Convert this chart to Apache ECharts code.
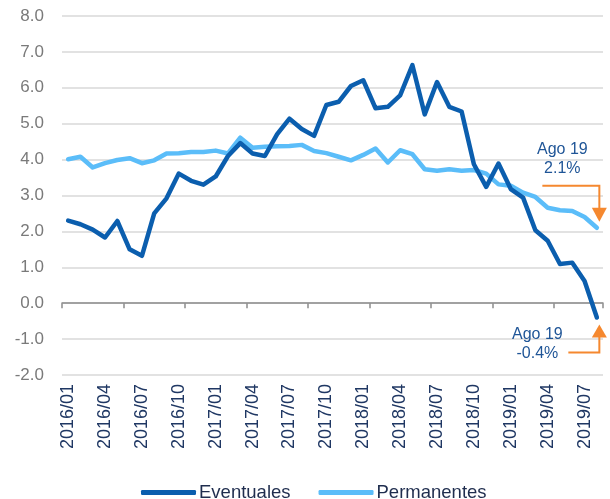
<!DOCTYPE html>
<html>
<head>
<meta charset="utf-8">
<script src="https://cdn.jsdelivr.net/npm/echarts@6/dist/echarts.min.js"></script>
<style>
  html, body { margin: 0; padding: 0; background: #fff; }
  #chart { width: 610px; height: 499px; }
</style>
</head>
<body>
<div id="chart"></div>
<script>
// meses 2016/01 - 2019/08
var meses = [
    '2016/01', '2016/02', '2016/03', '2016/04', '2016/05', '2016/06', '2016/07', '2016/08', '2016/09', '2016/10', '2016/11', '2016/12',
    '2017/01', '2017/02', '2017/03', '2017/04', '2017/05', '2017/06', '2017/07', '2017/08', '2017/09', '2017/10', '2017/11', '2017/12',
    '2018/01', '2018/02', '2018/03', '2018/04', '2018/05', '2018/06', '2018/07', '2018/08', '2018/09', '2018/10', '2018/11', '2018/12',
    '2019/01', '2019/02', '2019/03', '2019/04', '2019/05', '2019/06', '2019/07', '2019/08'
];
var eventuales = [
    2.3, 2.2, 2.05, 1.83, 2.29, 1.5, 1.32, 2.5, 2.92, 3.61, 3.41, 3.3,
    3.53, 4.1, 4.46, 4.17, 4.1, 4.71, 5.14, 4.85, 4.66, 5.52, 5.61, 6.05,
    6.21, 5.43, 5.47, 5.79, 6.63, 5.26, 6.16, 5.47, 5.34, 3.87, 3.24, 3.89,
    3.18, 2.94, 2.03, 1.74, 1.09, 1.13, 0.62, -0.4
];
var permanentes = [
    4.01, 4.08, 3.78, 3.9, 3.99, 4.04, 3.9, 3.98, 4.17, 4.18, 4.21, 4.21,
    4.25, 4.17, 4.61, 4.33, 4.36, 4.37, 4.38, 4.41, 4.24, 4.18, 4.08, 3.98,
    4.13, 4.31, 3.92, 4.26, 4.15, 3.73, 3.69, 3.73, 3.69, 3.71, 3.61, 3.31,
    3.27, 3.08, 2.96, 2.66, 2.59, 2.57, 2.4, 2.1
];
var notaPerm = ['Ago 19', '2.1%'];
var notaEvent = ['Ago 19', '-0.4%'];

var colorEvent = '#0b5eae';
var colorPerm = '#5bbdf9';
var naranja = '#f5882f';
var azulTexto = '#1f5597';
var fuente = '"Liberation Sans", Arial, sans-serif';

var chart = echarts.init(document.getElementById('chart'));

var option = {
    animation: false,
    textStyle: { fontFamily: fuente },
    grid: { left: 62, right: 7, top: 16, bottom: 124, containLabel: false },
    legend: {
        top: 478,
        left: 136,
        itemWidth: 55,
        itemHeight: 5,
        itemGap: 28,
        icon: 'roundRect',
        textStyle: { fontSize: 18.5, color: '#1f2d4e', fontFamily: fuente, padding: [0, 0, 0, -2] },
        data: ['Eventuales', 'Permanentes']
    },
    xAxis: [{
        type: 'category',
        data: meses,
        boundaryGap: true,
        axisLine: { onZero: true, lineStyle: { color: '#8c8c8c', width: 1.5 } },
        axisTick: { show: true, interval: 4, length: 5, lineStyle: { color: '#8c8c8c', width: 1.5 } },
        axisLabel: { show: false },
        splitLine: { show: false }
    }, {
        type: 'category',
        data: meses,
        position: 'bottom',
        boundaryGap: true,
        axisLine: { show: false, onZero: false },
        axisTick: { show: false },
        axisLabel: {
            interval: 2,
            rotate: 90,
            margin: 9,
            fontSize: 18,
            color: '#1f3763',
            fontFamily: fuente
        },
        splitLine: { show: false }
    }],
    yAxis: {
        type: 'value',
        min: -2,
        max: 8,
        interval: 1,
        axisLine: { show: false },
        axisTick: { show: false },
        axisLabel: {
            margin: 18,
            fontSize: 17,
            color: '#7a7a7a',
            fontFamily: fuente,
            formatter: function (v) { return v.toFixed(1); }
        },
        splitLine: { lineStyle: { color: '#d9d9d9', width: 1.5 } }
    },
    series: [{
        name: 'Eventuales',
        type: 'line',
        xAxisIndex: 0,
        data: eventuales,
        showSymbol: false,
        symbol: 'none',
        z: 3,
        lineStyle: { color: colorEvent, width: 4.5, join: 'round', cap: 'round' },
        itemStyle: { color: colorEvent }
    }, {
        name: 'Permanentes',
        type: 'line',
        xAxisIndex: 0,
        data: permanentes,
        showSymbol: false,
        symbol: 'none',
        z: 2,
        lineStyle: { color: colorPerm, width: 4.5, join: 'round', cap: 'round' },
        itemStyle: { color: colorPerm }
    }]
};
chart.setOption(option);

// notas con flecha junto al ultimo dato
var ult = meses.length - 1;
var pPerm = chart.convertToPixel({ xAxisIndex: 0, yAxisIndex: 0 }, [ult, permanentes[ult]]);
var pEvent = chart.convertToPixel({ xAxisIndex: 0, yAxisIndex: 0 }, [ult, eventuales[ult]]);

function texto(x, y, t) {
    return {
        type: 'text', x: x, y: y, z: 10,
        style: { text: t, fill: azulTexto, fontSize: 16, fontFamily: fuente, align: 'center', verticalAlign: 'middle' }
    };
}

var ax = pPerm[0] + 2.5;
var tipTop = pPerm[1] - 6;
var bx = pEvent[0] + 2.5;
var tipBot = pEvent[1] + 7;

chart.setOption({
    graphic: [
        texto(ax - 37, tipTop - 72, notaPerm[0]),
        texto(ax - 37, tipTop - 53, notaPerm[1]),
        {
            type: 'polyline', z: 10,
            shape: { points: [[ax - 57, tipTop - 36], [ax, tipTop - 36], [ax, tipTop - 13]] },
            style: { stroke: naranja, lineWidth: 2, fill: null }
        },
        {
            type: 'polygon', z: 10,
            shape: { points: [[ax - 7.5, tipTop - 14], [ax + 7.5, tipTop - 14], [ax, tipTop]] },
            style: { fill: naranja }
        },
        texto(bx - 62, tipBot + 10, notaEvent[0]),
        texto(bx - 62, tipBot + 29, notaEvent[1]),
        {
            type: 'polyline', z: 10,
            shape: { points: [[bx - 31, tipBot + 28], [bx, tipBot + 28], [bx, tipBot + 12]] },
            style: { stroke: naranja, lineWidth: 2, fill: null }
        },
        {
            type: 'polygon', z: 10,
            shape: { points: [[bx - 7.5, tipBot + 13], [bx + 7.5, tipBot + 13], [bx, tipBot]] },
            style: { fill: naranja }
        }
    ]
});
</script>
</body>
</html>
